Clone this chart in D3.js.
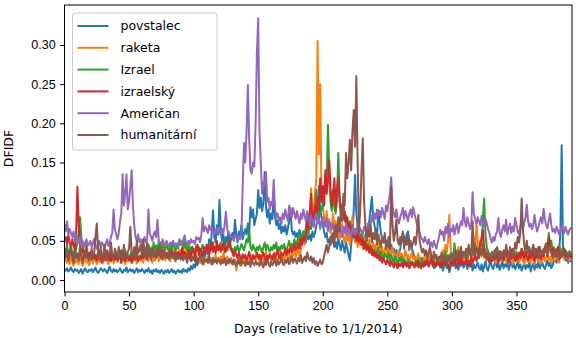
<!DOCTYPE html>
<html>
<head>
<meta charset="utf-8">
<script src="https://cdn.jsdelivr.net/npm/d3@7"></script>
<style>
  body { margin: 0; background: #fff; }
  svg { font-family: "DejaVu Sans", sans-serif; }
  .tick text { font-size: 12.5px; fill: #000; }
</style>
</head>
<body>
<div class="chart"></div>
<script>
// DFIDF values per day (day 0 = 1/1/2014), stored as DFIDF x 1000
const names = ["povstalec", "raketa", "Izrael", "izraelský", "Američan", "humanitární"];
const colors = ["#1f77b4", "#ff7f0e", "#2ca02c", "#d62728", "#9467bd", "#8c564b"];
const xTicks = [0, 50, 100, 150, 200, 250, 300, 350];
const yTicks = [0, 0.05, 0.10, 0.15, 0.20, 0.25, 0.30];

const povstalec = [
  14,12,15,11,13,16,12,10,14,12, 13,9,11,14,8,12,15,11,10,13, 12,14,10,13,16,11,9,12,15,13,
  11,14,12,9,13,17,12,10,14,11, 13,10,12,15,11,9,13,12,16,10, 12,14,11,13,9,12,15,10,13,11,
  14,12,9,13,11,15,10,12,8,13, 11,14,10,12,9,13,11,8,12,10, 13,9,11,14,10,12,8,11,13,10,
  12,9,14,11,13,10,15,12,18,14, 20,16,24,19,28,22,35,26,40,30, 45,33,52,38,60,89,55,48,70,58,
  102,65,50,58,42,55,48,62,45,52, 60,50,77,58,48,62,55,70,52,60, 65,58,72,60,93,80,90,70,78,85,
  115,92,105,88,98,138,95,80,90,72, 85,78,110,82,70,76,65,72,60,68, 62,70,58,66,75,92,64,58,62,55,
  60,52,64,58,50,62,55,48,60,52, 58,50,62,55,60,70,75,120,90,80, 70,62,55,60,48,52,45,58,50,42,
  48,40,55,45,38,50,42,35,48,40, 32,25,45,60,90,134,85,70,55,48, 60,52,45,58,50,62,75,90,106,80,
  70,62,55,89,75,60,52,48,55,45, 50,42,38,45,35,40,32,38,30,35, 40,52,60,55,48,58,62,50,45,40,
  35,30,28,25,32,22,28,20,25,18, 22,26,19,24,28,20,15,22,18,25, 20,16,22,12,18,24,15,20,10,17,
  22,18,25,15,20,13,24,18,22,16, 19,25,14,21,17,23,12,20,15,18, 22,16,13,20,11,18,24,15,12,19,
  23,17,14,20,25,16,21,13,18,24, 15,20,17,22,13,19,25,16,21,14, 18,23,15,20,12,17,22,14,19,16,
  24,11,18,21,13,20,16,23,15,19, 22,17,14,20,25,18,22,15,19,24, 28,22,30,35,60,172,45,30,25,28,
  22,26,24
];

const raketa = [
  30,25,22,28,20,35,24,18,26,22, 28,20,32,25,18,24,30,22,27,19, 25,30,21,34,26,20,28,23,31,24,
  22,27,35,25,20,29,24,32,21,26, 30,23,27,36,22,25,31,20,28,24, 26,33,22,29,25,38,21,27,30,24,
  28,22,35,26,30,24,42,27,22,31, 25,29,38,24,33,27,45,30,25,35, 28,32,24,36,29,40,26,33,30,38,
  32,42,35,55,40,30,36,28,34,25, 30,26,33,24,28,22,30,25,20,27, 24,30,22,28,25,20,26,32,23,28,
  25,30,22,34,27,24,30,26,22,28, 24,20,26,12,22,28,18,25,30,22, 26,20,28,24,32,22,27,30,25,35,
  28,24,32,27,22,30,36,25,29,33, 26,31,24,35,28,22,30,38,27,32, 25,34,29,40,30,26,36,31,44,28,
  35,42,30,38,48,55,45,62,70,58, 85,117,80,95,110,130,305,160,250,110, 95,80,72,88,65,78,60,70,85,62,
  75,58,68,52,60,72,55,48,62,50, 58,45,65,80,55,48,60,42,52,45, 50,40,48,55,38,45,52,35,42,48,
  38,45,32,40,50,35,42,30,38,45, 32,40,28,36,42,30,35,26,33,38, 28,34,25,31,38,27,32,24,30,35,
  26,30,22,28,34,25,20,29,24,31, 22,27,35,24,30,20,26,32,23,28, 25,30,22,38,28,45,35,50,83,40,
  32,28,36,25,30,42,27,33,24,30, 28,35,25,32,40,30,45,55,38,75, 48,35,42,30,38,28,40,32,26,34,
  30,25,33,28,22,30,26,35,24,29, 32,27,22,30,25,34,28,20,31,26, 24,30,22,28,35,25,20,27,32,23,
  28,22,30,25,20,33,27,24,30,22, 26,31,24,28,35,25,30,22,27,32, 25,30,28,22,35,40,30,26,32,28,
  30,25,28
];

const izrael = [
  40,35,45,30,38,42,32,36,28,40, 48,60,80,55,42,38,30,35,28,33, 30,36,28,32,25,30,35,27,31,24,
  28,33,26,30,35,25,29,32,27,34, 30,25,32,28,35,26,31,38,28,33, 27,30,36,25,32,29,34,26,31,28,
  35,30,42,33,38,45,36,40,32,48, 38,44,35,50,40,36,46,42,38,48, 40,35,44,38,50,42,36,46,40,52,
  45,48,40,55,42,38,45,35,42,38, 40,35,44,38,42,36,40,45,38,42, 35,40,46,38,42,48,40,36,44,38,
  42,48,38,45,40,36,44,50,42,38, 40,35,42,38,44,36,40,46,42,38, 45,52,48,64,42,38,45,40,36,42,
  38,44,40,35,42,48,38,45,40,36, 42,38,45,40,48,36,42,38,44,40, 46,40,38,44,50,42,46,40,52,45,
  48,55,50,58,52,62,55,68,85,60, 72,65,80,70,90,115,85,78,95,88, 95,110,134,120,198,140,100,88,115,92,
  85,100,162,110,88,95,100,75,82,70, 68,75,62,70,58,65,55,62,50,58, 48,55,40,50,38,46,35,44,40,32,
  38,30,35,42,28,36,32,26,34,30, 28,34,24,32,27,22,30,25,20,28, 24,30,20,27,22,18,26,21,24,19,
  22,17,25,20,16,23,19,27,18,22, 20,24,17,22,28,19,25,16,21,27, 22,18,30,24,20,37,26,32,22,28,
  34,27,47,30,24,37,32,40,28,34, 30,36,28,42,34,30,38,32,47,36, 40,34,50,44,80,104,57,42,37,32,
  30,36,27,34,40,28,32,37,30,34, 28,34,40,30,36,32,27,38,32,30, 36,30,34,28,40,32,37,30,34,42,
  32,37,30,44,34,28,38,32,40,34, 37,32,42,47,40,60,44,50,37,42, 34,40,32,44,37,30,36,32,38,34,
  32,37,34
];

const izraelsky = [
  50,55,45,58,48,40,52,45,38,60, 119,70,45,35,40,30,38,32,28,35, 30,26,34,28,32,25,30,36,27,22,
  28,33,25,30,27,35,24,29,32,26, 30,25,28,34,22,31,27,24,33,28, 25,30,22,28,35,26,31,24,29,27,
  32,28,35,30,26,38,31,28,34,30, 36,29,33,40,31,28,37,32,30,35, 28,34,31,38,30,27,35,32,36,29,
  33,40,30,36,32,28,38,34,30,42, 35,30,38,45,32,40,36,30,42,35, 38,45,32,40,48,36,42,34,50,38,
  44,36,40,48,35,42,38,46,50,40, 35,30,38,32,28,35,30,26,33,28, 32,25,30,36,28,24,32,27,30,35,
  28,32,26,30,35,28,24,31,27,33, 30,26,34,28,32,38,30,27,35,31, 34,40,32,38,35,42,36,40,45,38,
  42,48,40,52,45,55,50,60,75,65, 85,110,70,80,95,78,105,90,130,100, 120,95,140,110,125,153,118,95,108,130,
  92,115,131,100,85,95,78,88,70,80, 65,72,60,68,55,62,50,58,48,55, 45,52,40,48,38,44,35,42,32,38,
  30,35,28,32,25,30,22,28,24,20, 26,22,18,24,20,16,22,19,15,21, 18,22,16,20,24,17,21,15,19,23,
  20,16,22,18,25,19,15,21,17,24, 20,26,18,22,28,19,24,17,21,25, 19,23,16,22,27,20,24,18,15,22,
  25,19,28,22,17,24,30,21,26,19, 23,28,20,25,18,32,22,26,35,24, 28,38,45,55,64,40,32,26,30,22,
  28,24,32,26,35,29,22,30,27,33, 25,30,36,28,22,32,27,34,29,24, 31,26,35,28,40,32,27,36,30,25,
  33,28,38,30,24,35,29,42,32,27, 35,30,40,46,38,54,42,35,40,32, 38,30,42,35,28,36,32,40,30,34,
  28,32,30
];

const american = [
  70,62,75,58,65,60,55,62,50,58, 52,48,55,45,50,42,48,52,44,46, 50,42,47,53,44,40,46,50,42,48,
  45,40,47,52,43,48,55,60,90,65, 58,52,60,75,85,135,95,110,135,90, 100,120,140,95,70,55,50,58,48,52,
  45,50,55,48,52,90,60,55,50,58, 62,55,77,50,48,45,52,47,44,50, 46,42,48,45,50,44,47,42,48,45,
  50,46,52,57,48,45,50,46,52,48, 50,46,55,52,54,48,58,79,62,68, 65,60,70,64,68,62,58,65,60,66,
  62,58,65,60,70,87,65,60,58,55, 55,52,58,54,50,56,52,58,120,175, 150,190,249,180,140,136,150,145,200,290,
  334,190,150,110,125,120,138,100,105,90, 100,95,128,90,80,85,75,80,72,85, 78,90,82,75,95,88,80,92,85,78,
  88,80,72,85,78,90,82,75,88,80, 70,82,75,68,80,85,72,78,65,75, 80,72,68,78,62,75,70,65,72,60,
  68,58,65,70,62,55,68,60,72,58, 65,60,55,68,62,58,64,70,60,66, 62,58,68,64,60,72,65,70,82,75,
  85,78,90,82,88,80,92,85,78,95, 88,100,110,131,95,85,80,90,78,72, 80,85,92,78,88,82,75,85,90,80,
  93,85,78,70,65,60,55,52,48,55, 50,46,52,44,48,42,50,45,40,48, 55,64,58,62,50,68,60,72,55,65,
  62,70,58,66,72,60,68,75,70,92, 75,68,80,72,65,70,112,85,78,72, 80,75,70,82,76,68,78,72,65,60,
  52,48,55,50,58,62,79,60,55,65, 70,62,77,58,66,72,60,68,62,79, 70,62,58,68,75,65,72,80,96,75,
  68,72,65,70,83,70,62,68,75,80, 72,91,78,70,66,75,85,70,62,65, 60,68,64,58,62,70,65,60,68,62,
  58,64,66
];

const humanitarni = [
  35,28,40,25,32,45,30,22,38,28, 34,25,42,30,22,36,28,45,32,25, 30,40,28,35,55,72,38,30,42,26,
  32,45,28,38,25,34,48,30,26,40, 35,28,42,30,38,26,45,32,28,36, 40,68,35,30,42,28,50,34,38,45,
  30,52,36,28,48,32,38,26,42,30, 35,28,40,32,45,30,26,38,32,28, 34,26,38,30,28,35,24,32,27,30,
  26,32,25,30,28,22,34,27,24,30, 28,24,30,22,27,32,25,20,28,24, 26,22,30,25,20,28,23,26,21,27,
  24,20,26,22,28,19,25,21,27,23, 20,26,22,18,25,21,27,19,24,22, 18,25,20,23,17,26,21,19,24,20,
  22,18,25,20,16,23,19,26,21,17, 24,19,22,27,18,25,20,23,28,21, 19,26,22,28,20,24,30,22,27,25,
  21,28,24,32,22,26,30,24,35,28, 25,30,22,28,20,24,18,22,26,20, 22,30,38,45,35,42,55,48,60,45,
  70,55,80,62,90,75,110,95,162,130, 150,179,140,190,217,170,260,150,60,90, 140,181,100,70,50,65,55,70,48,60,
  52,65,45,58,50,42,55,48,60,40, 45,55,40,119,70,50,60,77,50,45, 55,48,62,40,52,45,58,38,50,42,
  48,55,45,62,83,50,42,35,40,32, 38,28,35,42,30,25,36,28,32,22, 30,26,35,24,32,28,22,30,25,34,
  28,24,32,38,26,35,30,42,28,36, 32,40,28,45,35,30,75,38,32,42, 35,28,40,32,45,30,38,26,35,30,
  28,34,25,38,30,42,32,26,36,30, 38,30,45,35,28,42,33,40,30,48, 40,55,48,60,104,65,45,38,50,35,
  42,32,38,45,30,40,35,28,42,36, 32,40,35,45,30,38,42,34,28,36, 30,38,32,26,35,30,40,32,28,35,
  30,34,32
];

const seriesValues = [povstalec, raketa, izrael, izraelsky, american, humanitarni];

const width = 576, height = 338;
const margin = { top: 5, right: 4, bottom: 46, left: 64.5 };

const svg = d3.select(".chart")
  .append("svg")
  .attr("width", width)
  .attr("height", height);

const xScale = d3.scaleLinear()
  .domain([0, 393])
  .range([margin.left, width - margin.right]);

const yScale = d3.scaleLinear()
  .domain([-0.0153, 0.351])
  .range([height - margin.bottom, margin.top]);

//Lines, clipped to the axes box
svg.append("clipPath").attr("id", "plotArea")
  .append("rect")
  .attr("x", margin.left)
  .attr("y", margin.top)
  .attr("width", width - margin.right - margin.left)
  .attr("height", height - margin.bottom - margin.top);

const line = d3.line()
  .x((d, i) => xScale(i))
  .y(d => yScale(d / 1000));

svg.append("g")
  .attr("clip-path", "url(#plotArea)")
  .selectAll("path")
  .data(seriesValues)
  .join("path")
  .attr("d", d => line(d))
  .attr("fill", "none")
  .attr("stroke", (d, i) => colors[i])
  .attr("stroke-width", 2)
  .attr("stroke-linejoin", "round")
  .attr("stroke-linecap", "square");

//Axes
const xAxis = d3.axisBottom(xScale).tickValues(xTicks).tickSize(4.4).tickPadding(4.5);
const yAxis = d3.axisLeft(yScale).tickValues(yTicks).tickSize(4.4).tickPadding(4.5)
  .tickFormat(d3.format(".2f"));

const xAxisGroup = svg.append("g")
  .attr("transform", `translate(0, ${height - margin.bottom})`)
  .call(xAxis);
const yAxisGroup = svg.append("g")
  .attr("transform", `translate(${margin.left}, 0)`)
  .call(yAxis);

[xAxisGroup, yAxisGroup].forEach(g => {
  g.select(".domain").remove();
  g.selectAll(".tick line").attr("stroke", "#000").attr("stroke-width", 1);
});

//Spines
svg.append("rect")
  .attr("x", margin.left)
  .attr("y", margin.top)
  .attr("width", width - margin.right - margin.left)
  .attr("height", height - margin.bottom - margin.top)
  .attr("fill", "none")
  .attr("stroke", "#000")
  .attr("stroke-width", 1);

//Axis labels
svg.append("text")
  .attr("x", (margin.left + width - margin.right) / 2)
  .attr("y", 333)
  .attr("text-anchor", "middle")
  .attr("font-size", 12.5)
  .text("Days (relative to 1/1/2014)");

svg.append("text")
  .attr("transform", `translate(13, ${(margin.top + height - margin.bottom) / 2}) rotate(-90)`)
  .attr("text-anchor", "middle")
  .attr("font-size", 12.5)
  .text("DFIDF");

//Legend
const legend = svg.append("g").attr("transform", "translate(72.5, 13)");
legend.append("rect")
  .attr("width", 144.5)
  .attr("height", 137)
  .attr("rx", 2.5)
  .attr("fill", "#fff")
  .attr("fill-opacity", 0.8)
  .attr("stroke", "#ccc")
  .attr("stroke-width", 1);

const items = legend.selectAll(".item")
  .data(names)
  .join("g")
  .attr("class", "item")
  .attr("transform", (d, i) => `translate(0, ${13 + i * 21.8})`);

items.append("line")
  .attr("x1", 5).attr("x2", 36)
  .attr("stroke", (d, i) => colors[i])
  .attr("stroke-width", 2);

items.append("text")
  .attr("x", 48)
  .attr("dy", "0.35em")
  .attr("font-size", 12.5)
  .text(d => d);
</script>
</body>
</html>
